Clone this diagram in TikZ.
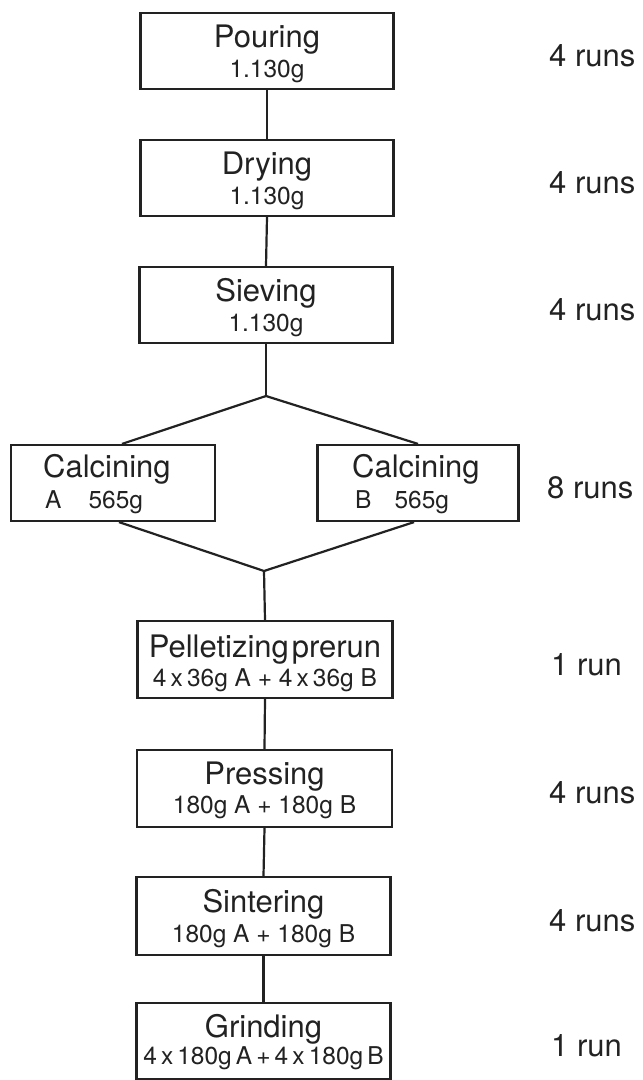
\documentclass[tikz,border=0pt]{standalone}
\usepackage{fontspec}
\setmainfont{TeX Gyre Heros}
\definecolor{ink}{HTML}{222222}
\begin{document}
\begin{tikzpicture}[x=1pt,y=-1pt,
  box/.style={draw=ink, line width=2.2pt, rectangle, inner sep=0pt,
              minimum width=253pt, minimum height=76pt},
  big/.style={anchor=base, text=ink, inner sep=0pt, font=\fontsize{31}{31}\selectfont},
  small/.style={anchor=base, text=ink, inner sep=0pt, font=\fontsize{24.5}{24.5}\selectfont},
  bigl/.style={big, anchor=base west},
  smalll/.style={small, anchor=base west},
  runs/.style={anchor=base west, text=ink, inner sep=0pt, font=\fontsize{31}{31}\selectfont},
  link/.style={draw=ink, line width=2.2pt}]
\useasboundingbox (0,0) rectangle (643,1080);
\fill[white] (0,0) rectangle (643,1080);

% boxes
\node[box] (pour) at (267,51) {};
\node[box] (dry)  at (267,178) {};
\node[box] (siev) at (266,305) {};
\node[box, minimum width=204pt] (ca) at (113,483) {};
\node[box, minimum width=201pt] (cb) at (418,483) {};
\node[box, minimum width=255pt, minimum height=77pt] (pel) at (265,659.5) {};
\node[box, minimum width=255pt, minimum height=77pt] (pre) at (264.5,788.5) {};
\node[box, minimum width=254pt, minimum height=78pt] (sin) at (263.5,916) {};
\node[box, minimum width=254pt, minimum height=76pt] (gri) at (263.5,1041) {};

% texts
\node[big]   (pourA) at (267,47)  {Pouring};
\node[small] (pourB) at (267,77)  {1.130g};
\node[big]   (dryA)  at (267,174) {Drying};
\node[small] (dryB)  at (267,204) {1.130g};
\node[big]   (sievA) at (266,301) {Sieving};
\node[small] (sievB) at (266,331) {1.130g};
\node[bigl]   (caA) at (43,477)  {Calcining};
\node[smalll] (caB) at (45,508)  {A\hspace{27pt}565g};
\node[bigl]   (cbA) at (352,477) {Calcining};
\node[smalll] (cbB) at (355,508) {B\hspace{23pt}565g};
\node[big]   (pelA) at (265,657) {Pelletizing\hspace{3pt}prerun};
\node[small] (pelB) at (265,686) {4\,x\,36g A + 4\,x\,36g B};
\node[big]   (preA) at (264.5,784) {Pressing};
\node[small] (preB) at (264.5,813) {180g A + 180g B};
\node[big]   (sinA) at (263.5,912) {Sintering};
\node[small] (sinB) at (263.5,942) {180g A + 180g B};
\node[big]   (griA) at (263.5,1037) {Grinding};
\node[small] (griB) at (263.5,1064) {4\,x\,180g\,A\,+\,4\,x\,180g\,B};

% runs
\node[runs] (r1) at (549,66)   {4 runs};
\node[runs] (r2) at (549,193)  {4 runs};
\node[runs] (r3) at (549,320)  {4 runs};
\node[runs] (r4) at (547,498)  {8 runs};
\node[runs] (r5) at (551,675)  {1 run};
\node[runs] (r6) at (549,803)  {4 runs};
\node[runs] (r7) at (549,931)  {4 runs};
\node[runs] (r8) at (551,1056) {1 run};

% connectors
\coordinate (br) at (266,396);
\coordinate (jn) at (264,571);
\draw[link] (pour.south) -- (dry.north);
\draw[link] (dry.south) -- (siev.north);
\draw[link] (siev.south) -- (br);
\draw[link] ([xshift=9pt]ca.north) -- (br) -- (cb.north);
\draw[link] ([xshift=6pt]ca.south) -- (jn) -- ([xshift=-4pt]cb.south);
\draw[link] (jn) -- (pel.north);
\draw[link] (pel.south) -- (pre.north);
\draw[link] (pre.south) -- (sin.north);
\draw[link] (sin.south) -- (gri.north);
\end{tikzpicture}
\end{document}
